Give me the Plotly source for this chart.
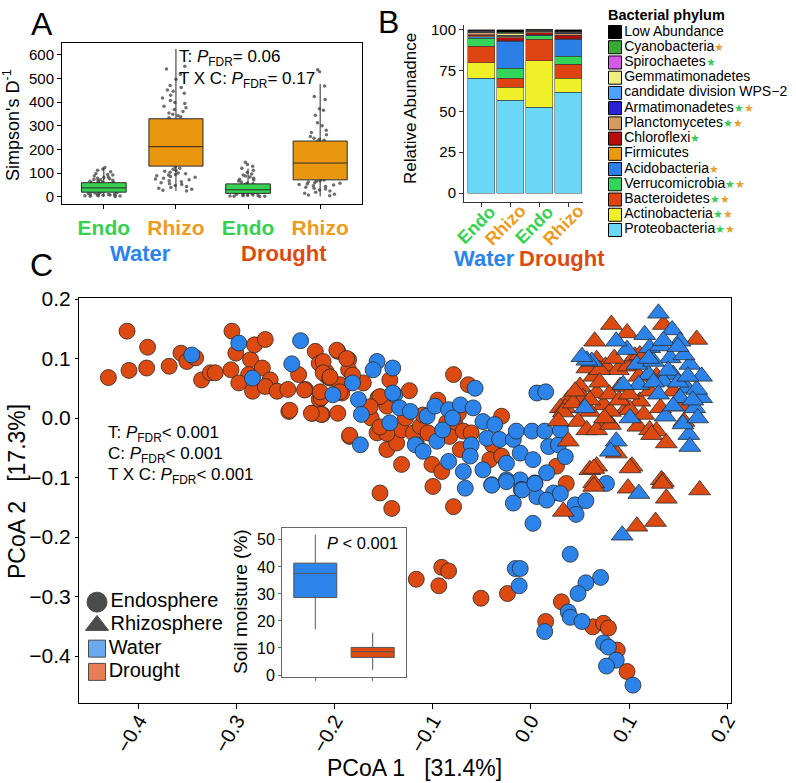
import plotly.graph_objects as go

FONT = "Liberation Sans, Arial, Helvetica, sans-serif"
W, H = 796, 783

C_ENDO = "#37D14F"
C_RHIZO = "#E8960E"
C_RHIZO_TXT = "#EB9B1E"
C_WATER = "#2C84EA"
C_DROUGHT = "#DC4A12"
STAR_G = "#3CC85A"
STAR_O = "#E3A035"

# ---------------- Panel A data ----------------
a_cats = ["Water Endo", "Water Rhizo", "Drought Endo", "Drought Rhizo"]
a_labels = ["Endo", "Rhizo", "Endo", "Rhizo"]
a_q1 = [20, 130, 15, 72]
a_median = [38, 212, 30, 143]
a_q3 = [60, 330, 55, 236]
a_lowerfence = [2, 25, 2, 2]
a_upperfence = [122, 625, 120, 477]
a_pts_water_endo = [124, 118, 113, 106, 99, 95, 92, 88, 84, 82, 79, 77, 74, 72, 70, 68, 66, 65, 63, 61,
                    60, 58, 56, 54, 53, 51, 49, 47, 46, 44, 42, 40, 39, 37, 35, 34, 32, 30, 28, 27,
                    25, 23, 21, 19, 18, 16, 14, 12, 11, 10, 9, 8, 8, 7, 6, 5, 5, 4, 3, 2]
a_pts_water_rhizo = [552, 540, 518, 497, 470, 462, 451, 446, 438, 429, 418, 407, 399, 394, 383, 376,
                     369, 361, 354, 349, 343, 338, 334, 126, 121, 117, 112, 108, 104, 101, 98, 95, 92,
                     89, 86, 83, 79, 76, 72, 68, 64, 60, 56, 52, 48, 44, 40, 36, 32, 28, 25, 180, 240, 280]
a_pts_drought_endo = [146, 137, 129, 121, 113, 104, 97, 92, 88, 84, 79, 75, 71, 67, 63, 59, 56, 52, 49,
                      46, 43, 40, 37, 34, 31, 28, 25, 23, 21, 19, 17, 15, 13, 11, 9, 8, 7, 6, 5, 4, 3, 3, 2]
a_pts_drought_rhizo = [537, 529, 468, 424, 411, 372, 366, 345, 313, 301, 281, 272, 263, 255, 248, 243,
                       239, 236, 120, 150, 190, 76, 71, 68, 66, 63, 60, 58, 55, 52, 50, 47, 44, 41, 37,
                       33, 29, 25, 20, 15, 11, 8, 5]

# ---------------- Panel B data ----------------
b_cats = ["Water Endo", "Water Rhizo", "Drought Endo", "Drought Rhizo"]
b_labels = ["Endo", "Rhizo", "Endo", "Rhizo"]
phyla = ["Proteobacteria", "Actinobacteria", "Bacteroidetes", "Verrucomicrobia", "Acidobacteria",
         "Firmicutes", "Chloroflexi", "Planctomycetes", "Armatimonadetes", "candidate division WPS\u22122",
         "Gemmatimonadetes", "Spirochaetes", "Cyanobacteria", "Low Abundance"]
phyla_colors = ["#6AD7F7", "#F0F028", "#DD4411", "#33D45A", "#2B7FE6", "#E89A10", "#B80C0C",
                "#D49A60", "#2A22D8", "#4FA0FF", "#F0EE80", "#D45BE6", "#3AA832", "#000000"]
phyla_stars = ["go", "go", "go", "go", "o", "", "g", "go", "go", "", "", "g", "o", ""]
proteobacteria = [70.4, 57.0, 52.7, 61.8]
actinobacteria = [9.6, 7.7, 28.5, 8.6]
bacteroidetes = [10.0, 5.7, 13.1, 8.6]
verrucomicrobia = [5.0, 6.1, 2.0, 4.7]
acidobacteria = [0.8, 16.4, 0.3, 10.6]
firmicutes = [0.5, 0.3, 0.3, 0.3]
chloroflexi = [0.8, 2.0, 1.2, 2.2]
planctomycetes = [1.0, 0.8, 1.0, 0.8]
armatimonadetes = [0.2, 0.3, 0.1, 0.2]
wps2 = [0.2, 0.5, 0.2, 0.3]
gemmatimonadetes = [0.3, 1.2, 0.3, 0.6]
spirochaetes = [0.4, 0.2, 0.2, 0.1]
cyanobacteria = [0.2, 0.3, 0.1, 0.2]
low_abundance = [0.6, 1.5, 0.3, 1.0]
b_values = [proteobacteria, actinobacteria, bacteroidetes, verrucomicrobia, acidobacteria, firmicutes,
            chloroflexi, planctomycetes, armatimonadetes, wps2, gemmatimonadetes, spirochaetes,
            cyanobacteria, low_abundance]

# ---------------- Panel C data (PCoA 1, PCoA 2) ----------------
endo_drought = [
    (-0.431, 0.068), (-0.412, 0.146), (-0.410, 0.080), (-0.391, 0.119), (-0.392, 0.084), (-0.369, 0.087),
    (-0.357, 0.109), (-0.351, 0.095), (-0.342, 0.101), (-0.336, 0.064), (-0.327, 0.076), (-0.322, 0.076),
    (-0.305, 0.146), (-0.306, 0.081), (-0.301, 0.109), (-0.286, 0.098), (-0.282, 0.123), (-0.271, 0.132),
    (-0.288, 0.073), (-0.298, 0.059), (-0.284, 0.045), (-0.274, 0.084), (-0.266, 0.064), (-0.271, 0.053),
    (-0.259, 0.045), (-0.248, 0.048), (-0.247, 0.011), (-0.237, 0.073), (-0.230, 0.048), (-0.223, 0.008),
    (-0.216, 0.031), (-0.213, 0.006), (-0.220, 0.112), (-0.216, 0.092), (-0.209, 0.078), (-0.208, 0.070),
    (-0.197, 0.112), (-0.186, 0.098), (-0.212, 0.095), (-0.212, 0.076), (-0.205, 0.067), (-0.186, 0.081),
    (-0.195, 0.056), (-0.171, 0.059), (-0.214, 0.034), (-0.214, 0.006), (-0.197, 0.008), (-0.193, 0.042),
    (-0.185, -0.031), (-0.156, 0.034), (-0.147, 0.020), (-0.163, 0.000), (-0.157, -0.025), (-0.144, 0.064),
    (-0.124, 0.046), (-0.147, -0.053), (-0.137, -0.042), (-0.132, -0.020), (-0.132, -0.078), (-0.117, -0.042),
    (-0.120, -0.025), (-0.113, -0.014), (-0.105, -0.025), (-0.101, -0.078), (-0.091, -0.090), (-0.100, -0.115),
    (-0.154, -0.126), (-0.079, 0.073), (-0.064, 0.056), (-0.086, -0.008), (-0.078, -0.008), (-0.083, -0.031),
    (-0.072, -0.053), (-0.069, -0.022), (-0.061, -0.025), (-0.074, 0.008), (-0.030, 0.003), (-0.039, -0.045),
    (-0.042, -0.070), (-0.030, -0.064), (0.026, -0.081), (-0.079, -0.149), (-0.117, -0.271), (-0.091, -0.251),
    (-0.084, -0.257), (-0.094, -0.282), (-0.051, -0.303), (-0.024, -0.295), (0.015, -0.342), (0.031, -0.309),
    (0.063, -0.351), (0.074, -0.345), (0.079, -0.353), (0.088, -0.390), (0.098, -0.426), (0.036, -0.110),
    (-0.198, 0.114), (-0.188, 0.100), (-0.205, 0.069), (-0.215, 0.044), (-0.195, 0.044), (-0.224, 0.008),
    (-0.246, 0.013), (-0.231, 0.047), (-0.185, -0.029), (-0.154, 0.036), (-0.164, 0.019), (-0.147, -0.026),
    (-0.154, -0.015), (-0.182, 0.072), (-0.142, -0.152), (-0.110, 0.005), (-0.095, 0.030), (-0.128, 0.000),
]
endo_water = [
    (-0.346, 0.106), (-0.298, 0.126), (-0.284, 0.067), (-0.235, 0.130), (-0.244, 0.091),
    (-0.157, 0.095), (-0.161, 0.081), (-0.141, 0.084), (-0.182, 0.059), (-0.176, 0.031), (-0.173, 0.006),
    (-0.139, 0.039), (-0.144, -0.008), (-0.134, 0.017), (-0.123, 0.011), (-0.106, 0.003), (-0.098, 0.020),
    (-0.084, 0.014), (-0.072, 0.022), (-0.057, 0.050), (-0.059, 0.017), (-0.049, -0.006), (-0.037, -0.011),
    (-0.045, -0.034), (-0.061, -0.045), (-0.118, -0.045), (-0.110, -0.056), (-0.096, -0.039), (-0.084, -0.073),
    (-0.062, -0.064), (-0.069, -0.090), (-0.174, -0.045), (-0.049, -0.087), (-0.040, -0.112),
    (-0.032, -0.036), (-0.025, -0.076), (-0.018, -0.036), (-0.015, -0.022), (-0.011, -0.059), (0.001, -0.022),
    (0.002, -0.070), (0.014, -0.022), (0.018, -0.048), (0.006, 0.042), (0.015, 0.044), (-0.025, -0.104),
    (-0.011, -0.104), (-0.010, -0.120), (0.004, -0.109), (0.016, -0.092), (0.023, -0.126), (0.028, -0.045),
    (-0.202, 0.039), (-0.141, 0.042), (-0.067, -0.118), (-0.040, -0.113), (-0.025, -0.107), (-0.009, -0.121),
    (0.006, -0.132), (0.016, -0.138), (0.004, -0.110), (-0.018, -0.143), (0.030, -0.127), (0.045, -0.146),
    (0.056, -0.139), (0.046, -0.162), (0.077, -0.110), (0.002, -0.177), (0.040, -0.229), (-0.016, -0.253),
    (-0.011, -0.253), (-0.012, -0.282), (0.014, -0.359), (0.071, -0.268), (0.056, -0.277), (0.048, -0.295),
    (0.038, -0.326), (0.040, -0.335), (0.052, -0.342), (0.074, -0.378), (0.079, -0.385), (0.087, -0.407),
    (0.077, -0.417), (0.104, -0.449), (0.030, -0.020), (0.035, -0.065), (-0.090, -0.020), (-0.080, 0.000),
]
rhizo_drought = [
    (0.082, 0.157), (0.098, 0.143), (0.065, 0.129), (0.169, 0.132), (0.060, 0.090), (0.067, 0.098),
    (0.076, 0.087), (0.064, 0.070), (0.050, 0.053), (0.038, 0.031), (0.030, 0.017), (0.053, 0.034),
    (0.067, 0.042), (0.074, 0.022), (0.089, 0.081), (0.099, 0.087), (0.091, 0.053), (0.098, 0.017),
    (0.111, 0.028), (0.121, 0.045), (0.106, 0.104), (0.111, 0.106), (0.128, 0.070), (0.145, 0.045),
    (0.154, 0.020), (0.156, -0.006), (0.135, 0.157), (0.079, -0.006), (0.060, 0.011), (0.048, -0.006),
    (0.057, -0.020), (0.067, -0.020), (0.081, -0.011), (0.109, -0.014), (0.121, -0.020), (0.128, -0.022),
    (0.123, -0.028), (0.138, -0.042), (0.038, -0.039), (0.087, -0.059), (0.060, -0.087), (0.067, -0.081),
    (0.103, -0.081), (0.064, -0.109), (0.133, -0.104), (0.101, 0.014), (0.115, 0.006), (0.057, 0.084),
    (0.070, 0.081), (0.035, 0.017), (0.081, 0.011), (0.132, 0.017), (0.033, 0.010), (0.028, -0.005),
    (0.043, 0.025), (0.064, -0.085), (0.101, -0.084), (0.135, -0.107), (0.033, -0.157), (0.064, -0.115),
    (0.099, -0.118), (0.134, -0.110), (0.138, -0.135), (0.172, -0.121), (0.108, -0.182), (0.127, -0.174),
    (0.070, 0.060), (0.080, 0.040), (0.090, 0.030), (0.100, 0.040), (0.085, 0.100), (0.060, 0.030),
    (0.045, 0.045), (0.075, 0.000), (0.110, 0.070),
]
rhizo_water = [
    (0.130, 0.176), (0.116, 0.140), (0.144, 0.148), (0.152, 0.129), (0.098, 0.115), (0.121, 0.118),
    (0.132, 0.121), (0.162, 0.090), (0.174, 0.070), (0.145, 0.073), (0.120, 0.073), (0.110, 0.056),
    (0.094, 0.056), (0.135, 0.062), (0.159, 0.050), (0.174, 0.034), (0.167, 0.017), (0.137, 0.003),
    (0.101, 0.000), (0.161, -0.028), (0.162, -0.048), (0.087, -0.039), (0.081, -0.056), (0.062, 0.095),
    (0.055, 0.017), (0.142, 0.101), (0.156, 0.106), (0.108, 0.090), (0.125, 0.095), (0.152, 0.034),
    (0.169, 0.048), (0.087, 0.129), (0.057, 0.097), (0.052, 0.103), (0.110, -0.127), (0.093, -0.197),
    (0.125, 0.060), (0.140, 0.080), (0.150, 0.060), (0.160, 0.070), (0.130, 0.040), (0.145, 0.020),
    (0.120, 0.100), (0.135, 0.130), (0.150, 0.120), (0.165, 0.030), (0.155, -0.010), (0.170, 0.000),
]

# ---------------- Inset data (soil moisture %) ----------------
sm_cats = ["Water", "Drought"]
sm_q1 = [28.7, 6.5]
sm_median = [37.6, 8.6]
sm_q3 = [41.4, 10.2]
sm_lowerfence = [16.9, 1.8]
sm_upperfence = [51.9, 15.7]

# ---------------- Legend C ----------------
legc_labels = ["Endosphere", "Rhizosphere", "Water", "Drought"]
legc_symbols = ["circle", "triangle-up", "square", "square"]
legc_colors = ["#000000", "#000000", C_WATER, C_DROUGHT]
legc_sizes = [20, 20, 17, 17]


def px(x):
    return x / W


def py(y):
    return 1 - y / H


fig = go.Figure()

# ---- Panel A: jittered points (box itself invisible) ----
for cat, vals in zip(a_cats, [a_pts_water_endo, a_pts_water_rhizo, a_pts_drought_endo, a_pts_drought_rhizo]):
    fig.add_trace(go.Box(
        x=[cat] * len(vals), y=vals, boxpoints="all", jitter=1.0, pointpos=0, width=0.62,
        fillcolor="rgba(0,0,0,0)", line=dict(color="rgba(0,0,0,0)", width=0),
        marker=dict(color="#4a4a4a", size=3.5, opacity=0.8), showlegend=False,
        xaxis="x", yaxis="y"))
# ---- Panel A: boxes ----
a_fill = [C_ENDO, C_RHIZO, C_ENDO, C_RHIZO]
a_width = [0.62, 0.75, 0.62, 0.75]
for i, cat in enumerate(a_cats):
    fig.add_trace(go.Box(
        x=[cat], q1=[a_q1[i]], median=[a_median[i]], q3=[a_q3[i]],
        lowerfence=[a_lowerfence[i]], upperfence=[a_upperfence[i]], width=a_width[i],
        fillcolor=a_fill[i], line=dict(color="#2b2b2b", width=1), whiskerwidth=0,
        boxpoints=False, showlegend=False, xaxis="x", yaxis="y"))

# ---- Panel B: stacked bars ----
for name, vals, col in zip(phyla, b_values, phyla_colors):
    fig.add_trace(go.Bar(
        x=b_cats, y=vals, name=name, marker=dict(color=col, line=dict(color="#333333", width=0.5)),
        showlegend=False, xaxis="x2", yaxis="y2"))

# ---- Panel B legend (drawn on a hidden axis) ----
def star_html(code):
    out = ""
    for ch in code:
        colr = STAR_G if ch == "g" else STAR_O
        out += "<span style='color:%s;font-size:11px'>\u2605</span>" % colr
    return out


leg_idx = list(range(len(phyla)))
legb_text = [phyla[len(phyla) - 1 - i] + star_html(phyla_stars[len(phyla) - 1 - i]) for i in leg_idx]
legb_colors = [phyla_colors[len(phyla) - 1 - i] for i in leg_idx]
fig.add_trace(go.Scatter(
    x=[9] * len(phyla), y=leg_idx, mode="markers+text", text=legb_text, textposition="middle right",
    textfont=dict(size=14, color="black", family=FONT),
    marker=dict(symbol="square", size=13, color=legb_colors, line=dict(color="black", width=1)),
    cliponaxis=False, showlegend=False, hoverinfo="skip", xaxis="x5", yaxis="y5"))

# ---- Panel C: PCoA scatter ----
def add_pts(pairs, color, symbol, size):
    fig.add_trace(go.Scatter(
        x=[p[0] for p in pairs], y=[p[1] for p in pairs], mode="markers",
        marker=dict(color=color, symbol=symbol, size=size, line=dict(color="#2a2a2a", width=0.8)),
        showlegend=False, xaxis="x3", yaxis="y3"))


add_pts(endo_drought, C_DROUGHT, "circle", 16)
add_pts(endo_water, C_WATER, "circle", 16)
add_pts(rhizo_drought, C_DROUGHT, "triangle-up", 19)
add_pts(rhizo_water, C_WATER, "triangle-up", 19)

# ---- Inset: soil moisture boxes ----
sm_fill = [C_WATER, C_DROUGHT]
for i, cat in enumerate(sm_cats):
    fig.add_trace(go.Box(
        x=[cat], q1=[sm_q1[i]], median=[sm_median[i]], q3=[sm_q3[i]],
        lowerfence=[sm_lowerfence[i]], upperfence=[sm_upperfence[i]], width=0.75,
        fillcolor=sm_fill[i], line=dict(color="#555555", width=1), whiskerwidth=0,
        boxpoints=False, showlegend=False, xaxis="x4", yaxis="y4"))

# ---- Panel C legend (hidden axis) ----
fig.add_trace(go.Scatter(
    x=[12] * 4, y=list(range(4)), mode="markers+text", text=legc_labels, textposition="middle right",
    textfont=dict(size=20, color="black", family=FONT),
    marker=dict(symbol=legc_symbols, size=legc_sizes, color=legc_colors, line=dict(color="black", width=1)),
    cliponaxis=False, showlegend=False, hoverinfo="skip", xaxis="x6", yaxis="y6"))

# ---------------- Layout ----------------
def colored_bold(txt, col):
    return "<b><span style='color:%s'>%s</span></b>" % (col, txt)


lab_cols = [C_ENDO, C_RHIZO_TXT, C_ENDO, C_RHIZO_TXT]
frame = dict(showline=True, linecolor="black", linewidth=1, mirror=True, showgrid=False, zeroline=False,
             ticks="outside", tickcolor="black", automargin=False)
plain = dict(showgrid=False, zeroline=False, automargin=False)

fig.update_layout(
    width=W, height=H, margin=dict(l=0, r=0, t=0, b=0, autoexpand=False),
    paper_bgcolor="white", plot_bgcolor="rgba(0,0,0,0)", showlegend=False,
    barmode="stack", bargap=0.07, boxmode="overlay",
    font=dict(family=FONT, color="black"),
    xaxis=dict(domain=[px(62), px(362)], anchor="y", type="category", categoryorder="array",
               categoryarray=a_cats, range=[-0.58, 3.58], tickmode="array", tickvals=a_cats,
               ticktext=[colored_bold(t, c) for t, c in zip(a_labels, lab_cols)],
               tickfont=dict(size=21), ticklen=4, ticklabelstandoff=1, **frame),
    yaxis=dict(domain=[py(204), py(43)], anchor="x", range=[-30, 650],
               tickvals=[0, 100, 200, 300, 400, 500, 600], tickfont=dict(size=15), ticklen=4, **frame),
    xaxis2=dict(domain=[px(464), px(583)], anchor="y2", type="category", categoryorder="array",
                categoryarray=b_cats, range=[-0.6, 3.5], tickmode="array", tickvals=b_cats,
                showticklabels=False, ticklen=4, showline=True, linecolor="#333333",
                linewidth=1, ticks="outside", tickcolor="#333333", **plain),
    yaxis2=dict(domain=[py(202), py(25)], anchor="x2", range=[-5.5, 103], tickvals=[0, 25, 50, 75, 100],
                tickfont=dict(size=15), ticklen=4, showline=True, linecolor="#333333", linewidth=1,
                ticks="outside", tickcolor="#333333", **plain),
    xaxis3=dict(domain=[px(79), px(731)], anchor="y3", range=[-0.461, 0.204],
                tickvals=[-0.4, -0.3, -0.2, -0.1, 0.0, 0.1, 0.2],
                tickformat=".1f", tickangle=-60, tickfont=dict(size=20), ticklen=5,
                ticklabelstandoff=-8, **frame),
    yaxis3=dict(domain=[py(703), py(298)], anchor="x3", range=[-0.479, 0.2017],
                tickvals=[-0.4, -0.3, -0.2, -0.1, 0.0, 0.1, 0.2],
                tickformat=".1f", tickfont=dict(size=21), ticklen=3, **frame),
    xaxis4=dict(domain=[px(282), px(406)], anchor="y4", type="category", categoryorder="array",
                categoryarray=sm_cats, range=[-0.58, 1.58], showticklabels=False, ticklen=3, showline=True,
                linecolor="#666666", linewidth=1, mirror=True, ticks="outside", tickcolor="#666666", **plain),
    yaxis4=dict(domain=[py(677), py(528)], anchor="x4", range=[-0.74, 54.4], tickvals=[0, 10, 20, 30, 40, 50],
                tickfont=dict(size=16), ticklen=3, showline=True, linecolor="#666666", linewidth=1, mirror=True,
                ticks="outside", tickcolor="#666666", **plain),
    xaxis5=dict(domain=[px(606), 1.0], anchor="y5", range=[0, 190], visible=False, automargin=False),
    yaxis5=dict(domain=[py(237.6), py(24.4)], anchor="x5", range=[13.5, -0.5], visible=False, automargin=False),
    xaxis6=dict(domain=[px(85), px(278)], anchor="y6", range=[0, 193], visible=False, automargin=False),
    yaxis6=dict(domain=[py(683.5), py(590.5)], anchor="x6", range=[3.5, -0.5], visible=False, automargin=False),
)

NB = "\u00a0"


def ann(text, x, y, size, color="black", xanchor="center", yanchor="middle", angle=0):
    return dict(text=text, x=px(x), y=py(y), xref="paper", yref="paper", showarrow=False,
                font=dict(size=size, color=color, family=FONT), xanchor=xanchor, yanchor=yanchor,
                textangle=angle)


annotations = [
    ann("A", 29, 24, 32, xanchor="left"),
    ann("B", 376, 22, 32, xanchor="left"),
    ann("C", 28, 265, 32, xanchor="left"),
    ann("Simpson's D<sup>-1</sup>", 12, 125, 18, angle=-90),
    ann("T: <i>P</i><sub>FDR</sub>= 0.06", 177, 58, 17, xanchor="left"),
    ann("T X C: <i>P</i><sub>FDR</sub>= 0.17", 177, 80, 17, xanchor="left"),
    ann("<b>Water</b>", 140, 253, 22, color=C_WATER),
    ann("<b>Drought</b>", 284, 253, 22, color=C_DROUGHT),
    ann("Relative Abunadnce", 410, 108, 17, angle=-90),
    ann("<b>Water</b>", 484, 258, 22, color=C_WATER),
    ann("<b>Drought</b>", 562, 258, 22, color=C_DROUGHT),
    ann("<b>Bacterial phylum</b>", 606, 15, 14.5, xanchor="left"),
    ann("T: <i>P</i><sub>FDR</sub>< 0.001", 106, 434, 17, xanchor="left"),
    ann("C: <i>P</i><sub>FDR</sub>< 0.001", 106, 455, 17, xanchor="left"),
    ann("T X C: <i>P</i><sub>FDR</sub>< 0.001", 106, 476, 17, xanchor="left"),
    ann("PCoA 2" + NB * 3 + "[17.3%]", 17, 492, 23, angle=-90),
    ann("PCoA 1" + NB * 3 + "[31.4%]", 415, 768, 23),
    ann("Soil moisture (%)", 240, 601, 19, angle=-90),
    ann("<i>P</i> < 0.001", 325, 543, 16.5, xanchor="left"),
]
# rotated category labels under the bars of panel B
for cat, lab, col in zip(b_cats, b_labels, lab_cols):
    annotations.append(dict(text=colored_bold(lab, col), x=cat, xref="x2", y=py(225), yref="paper",
                            xshift=-5, showarrow=False, textangle=-45, xanchor="center", yanchor="middle",
                            font=dict(size=18, family=FONT)))
fig.update_layout(annotations=annotations)

fig.write_html("out.html", config={"displayModeBar": False},
               post_script="document.body.style.margin='0';")
